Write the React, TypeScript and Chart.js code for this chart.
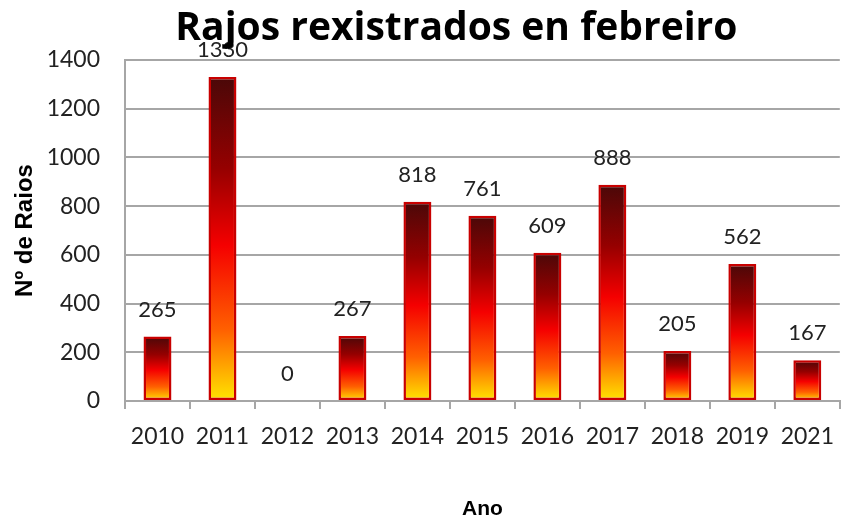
import React, { useEffect, useRef } from "react";
import { Chart, registerables } from "chart.js";

Chart.register(...registerables);

const categories = ["2010", "2011", "2012", "2013", "2014", "2015", "2016", "2017", "2018", "2019", "2021"];
const rays = [265, 1330, 0, 267, 818, 761, 609, 888, 205, 562, 167];
const chartTitle = "Rajos rexistrados en febreiro";
const yTitle = "Nº de Raios";
const xTitle = "Ano";

const GRID = "#a6a6a6";
const TEXT = "#222222";

function barGradient(ctx: any) {
  const chart = ctx.chart;
  const y = chart.scales && chart.scales.y;
  if (!y || !chart.chartArea || ctx.parsed == null) return "#ff0000";
  const top = y.getPixelForValue(ctx.parsed.y);
  const bottom = y.getPixelForValue(0);
  if (!isFinite(top) || Math.abs(bottom - top) < 1) return "#ff0000";
  const g = chart.ctx.createLinearGradient(0, top, 0, bottom);
  g.addColorStop(0, "#4a0808");
  g.addColorStop(0.28, "#950000");
  g.addColorStop(0.52, "#f50000");
  g.addColorStop(0.78, "#ff6000");
  g.addColorStop(1, "#ffe600");
  return g;
}

const labelsPlugin = {
  id: "valueLabels",
  afterDatasetsDraw(chart: any) {
    const ctx = chart.ctx;
    const meta = chart.getDatasetMeta(0);
    ctx.save();
    ctx.font = "22px Lato";
    ctx.fillStyle = TEXT;
    ctx.textAlign = "center";
    ctx.textBaseline = "middle";
    meta.data.forEach((el: any, i: number) => {
      ctx.fillText(String(rays[i]), el.x, el.y - 27);
    });
    ctx.restore();
  },
  afterDraw(chart: any) {
    const ctx = chart.ctx;
    ctx.save();
    ctx.font = "bold 39px 'Open Sans'";
    ctx.textAlign = "center";
    ctx.textBaseline = "alphabetic";
    const cx = (chart.chartArea.left + chart.chartArea.right) / 2 - 26;
    const w = ctx.measureText(chartTitle).width;
    ctx.fillStyle = "#ffffff";
    ctx.fillRect(cx - w / 2 - 4, 0, w + 8, 41);
    ctx.fillStyle = "#000000";
    ctx.fillText(chartTitle, cx, 40);
    ctx.restore();
  },
};

export default function App() {
  const ref = useRef<HTMLCanvasElement | null>(null);
  useEffect(() => {
    if (!ref.current) return;
    const chart = new Chart(ref.current, {
      type: "bar",
      data: {
        labels: categories,
        datasets: [
          {
            data: rays,
            backgroundColor: barGradient as any,
            borderColor: "#c80000",
            borderWidth: 2.5,
            borderSkipped: false,
            barPercentage: 0.43,
            categoryPercentage: 1,
          },
        ],
      },
      options: {
        animation: false,
        responsive: false,
        maintainAspectRatio: false,
        layout: { padding: { top: 60, left: 0, right: 0, bottom: 0 } },
        plugins: {
          legend: { display: false },
          title: { display: false },
          tooltip: { enabled: false },
        },
        scales: {
          x: {
            grid: {
              display: true,
              drawOnChartArea: false,
              drawTicks: true,
              tickLength: 8,
              color: GRID,
              lineWidth: 2,
              offset: true,
            },
            border: { display: true, color: GRID, width: 2 },
            ticks: { color: TEXT, font: { family: "Lato", size: 23 }, padding: 14, maxRotation: 0 },
            title: {
              display: true,
              text: xTitle,
              color: "#000000",
              font: { family: "Liberation Sans", size: 21, weight: "bold" },
              padding: { top: 0, bottom: 0 },
            },
            afterFit: (s: any) => {
              s.height = 121;
            },
          },
          y: {
            min: 0,
            max: 1400,
            ticks: {
              stepSize: 200,
              color: TEXT,
              font: { family: "Lato", size: 23 },
              padding: 25,
              callback: (v: any) => String(v),
            },
            grid: { color: GRID, lineWidth: 2, drawTicks: false },
            border: { display: true, color: GRID, width: 2 },
            title: {
              display: true,
              text: yTitle,
              color: "#000000",
              font: { family: "Liberation Sans", size: 24, weight: "bold" },
              padding: { top: 11, bottom: 0 },
            },
            afterFit: (s: any) => {
              s.width = 125;
            },
          },
        },
      },
      plugins: [labelsPlugin],
    });
    return () => chart.destroy();
  }, []);
  return (
    <div style={{ position: "fixed", left: 0, top: 0, width: 848, height: 522, background: "#ffffff" }}>
      <canvas ref={ref} width={848} height={522} style={{ width: 848, height: 522, display: "block" }} />
    </div>
  );
}
